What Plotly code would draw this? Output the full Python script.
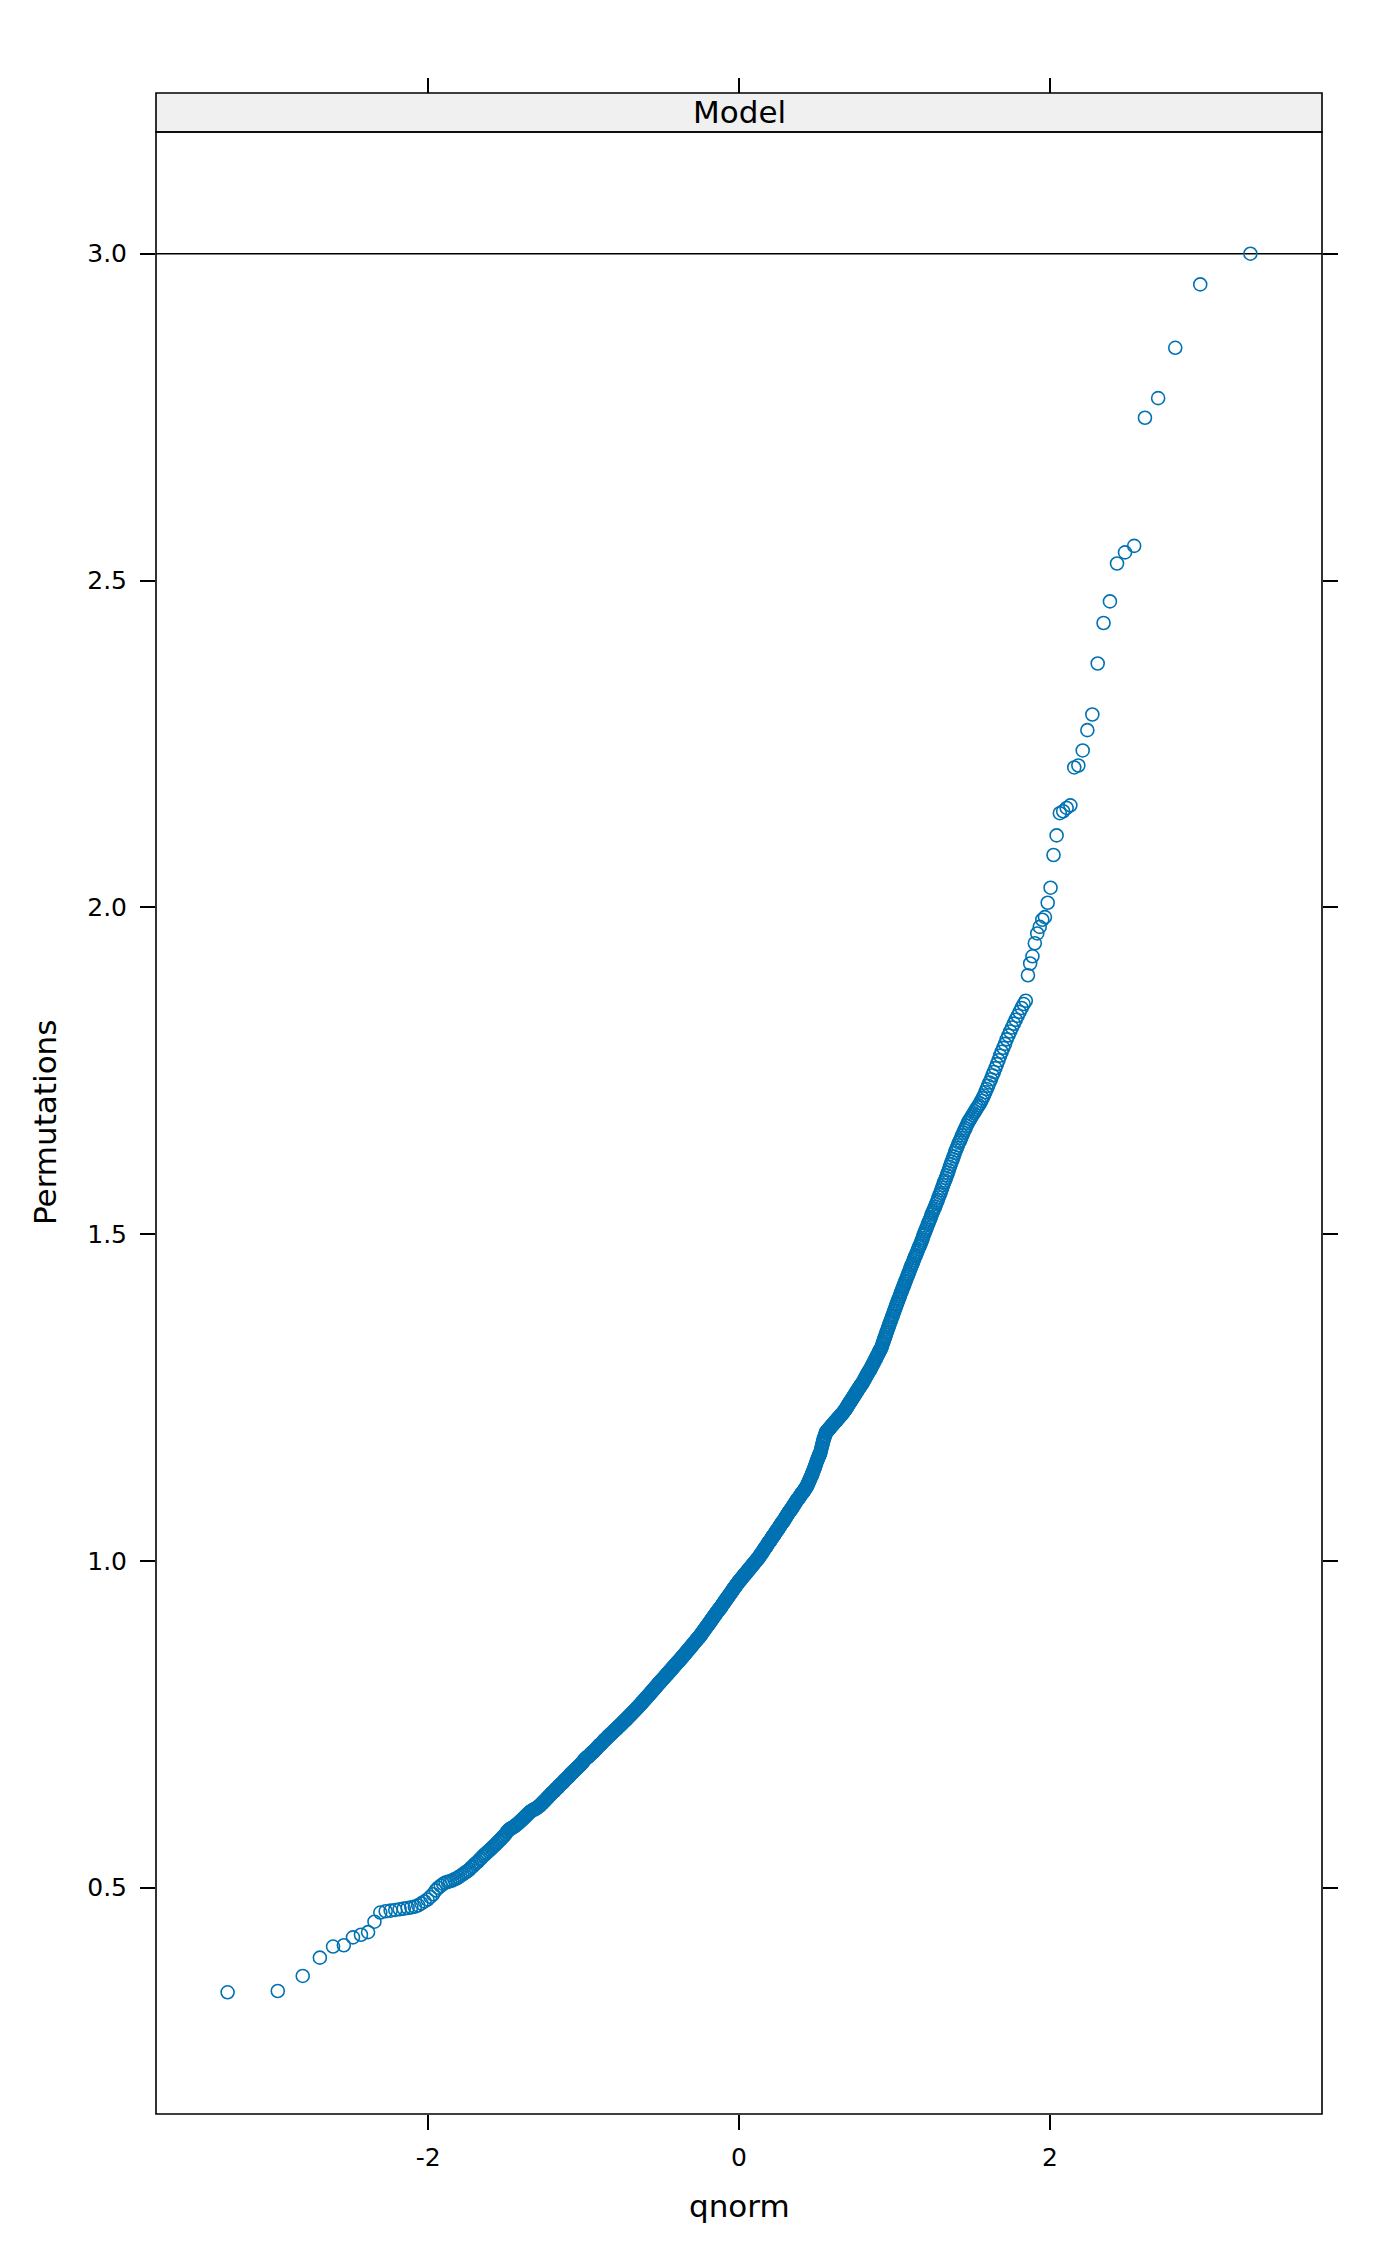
import plotly.graph_objects as go
from statistics import NormalDist

# ---- data: sorted permutation statistics ----
perm_lower_tail = [0.340, 0.342, 0.365, 0.393, 0.410, 0.412, 0.424, 0.428, 0.432, 0.448, 0.462, 0.464]

perm_body = [
    0.465, 0.466, 0.467, 0.468, 0.469, 0.470, 0.471, 0.473,
    0.476, 0.479, 0.482, 0.486, 0.490, 0.496, 0.500, 0.503, 0.506, 0.508,
    0.509, 0.510, 0.511, 0.513, 0.514, 0.516, 0.518, 0.520, 0.522, 0.524,
    0.526, 0.528, 0.531, 0.533, 0.536, 0.538, 0.540, 0.543, 0.545, 0.548,
    0.550, 0.552, 0.554, 0.556, 0.558, 0.560, 0.562, 0.564, 0.566, 0.568,
    0.570, 0.572, 0.574, 0.576, 0.578, 0.580, 0.582, 0.585, 0.587, 0.589,
    0.590, 0.591, 0.592, 0.593, 0.594, 0.596, 0.597, 0.598, 0.600, 0.601,
    0.603, 0.604, 0.606, 0.607, 0.609, 0.610, 0.612, 0.613, 0.615, 0.616,
    0.617, 0.618, 0.619, 0.620, 0.620, 0.621, 0.622, 0.623, 0.624, 0.625,
    0.626, 0.628, 0.629, 0.630, 0.632, 0.633, 0.634, 0.636, 0.637, 0.638,
    0.640, 0.641, 0.642, 0.644, 0.645, 0.646, 0.647, 0.648, 0.650, 0.651,
    0.652, 0.653, 0.654, 0.656, 0.657, 0.658, 0.659, 0.660, 0.661, 0.662,
    0.664, 0.665, 0.666, 0.667, 0.668, 0.669, 0.670, 0.671, 0.673, 0.674,
    0.675, 0.676, 0.677, 0.678, 0.679, 0.680, 0.681, 0.682, 0.683, 0.684,
    0.685, 0.686, 0.687, 0.688, 0.689, 0.690, 0.691, 0.692, 0.694, 0.695,
    0.696, 0.697, 0.698, 0.699, 0.700, 0.700, 0.701, 0.702, 0.703, 0.704,
    0.705, 0.706, 0.707, 0.707, 0.708, 0.709, 0.710, 0.711, 0.712, 0.713,
    0.714, 0.715, 0.716, 0.717, 0.718, 0.719, 0.719, 0.720, 0.721, 0.722,
    0.723, 0.724, 0.725, 0.726, 0.727, 0.727, 0.728, 0.729, 0.730, 0.731,
    0.732, 0.733, 0.733, 0.734, 0.735, 0.736, 0.736, 0.737, 0.738, 0.739,
    0.740, 0.740, 0.741, 0.742, 0.743, 0.743, 0.744, 0.745, 0.746, 0.747,
    0.747, 0.748, 0.749, 0.750, 0.750, 0.751, 0.752, 0.753, 0.754, 0.754,
    0.755, 0.756, 0.757, 0.757, 0.758, 0.759, 0.760, 0.761, 0.761, 0.762,
    0.763, 0.764, 0.764, 0.765, 0.766, 0.767, 0.768, 0.768, 0.769, 0.770,
    0.771, 0.771, 0.772, 0.773, 0.774, 0.775, 0.775, 0.776, 0.777, 0.778,
    0.779, 0.779, 0.780, 0.781, 0.782, 0.783, 0.783, 0.784, 0.785, 0.786,
    0.787, 0.787, 0.788, 0.789, 0.790, 0.791, 0.791, 0.792, 0.793, 0.794,
    0.795, 0.795, 0.796, 0.797, 0.798, 0.799, 0.799, 0.800, 0.801, 0.802,
    0.803, 0.803, 0.804, 0.805, 0.806, 0.807, 0.807, 0.808, 0.809, 0.810,
    0.811, 0.811, 0.812, 0.813, 0.814, 0.814, 0.815, 0.816, 0.817, 0.817,
    0.818, 0.819, 0.820, 0.820, 0.821, 0.822, 0.823, 0.823, 0.824, 0.825,
    0.826, 0.826, 0.827, 0.828, 0.829, 0.829, 0.830, 0.831, 0.832, 0.832,
    0.833, 0.834, 0.835, 0.835, 0.836, 0.837, 0.838, 0.838, 0.839, 0.840,
    0.841, 0.841, 0.842, 0.843, 0.844, 0.844, 0.845, 0.846, 0.846, 0.847,
    0.848, 0.848, 0.849, 0.850, 0.851, 0.851, 0.852, 0.853, 0.854, 0.854,
    0.855, 0.856, 0.857, 0.857, 0.858, 0.859, 0.860, 0.860, 0.861, 0.862,
    0.863, 0.863, 0.864, 0.865, 0.866, 0.866, 0.867, 0.868, 0.869, 0.869,
    0.870, 0.871, 0.872, 0.872, 0.873, 0.874, 0.875, 0.875, 0.876, 0.877,
    0.878, 0.878, 0.879, 0.880, 0.881, 0.881, 0.882, 0.883, 0.883, 0.884,
    0.885, 0.886, 0.887, 0.887, 0.888, 0.889, 0.890, 0.891, 0.892, 0.893,
    0.893, 0.894, 0.895, 0.896, 0.897, 0.898, 0.899, 0.899, 0.900, 0.901,
    0.902, 0.903, 0.904, 0.904, 0.905, 0.906, 0.907, 0.908, 0.909, 0.910,
    0.910, 0.911, 0.912, 0.913, 0.914, 0.915, 0.916, 0.916, 0.917, 0.918,
    0.919, 0.920, 0.921, 0.921, 0.922, 0.923, 0.924, 0.925, 0.925, 0.926,
    0.927, 0.928, 0.928, 0.929, 0.930, 0.931, 0.932, 0.933, 0.934, 0.935,
    0.935, 0.936, 0.937, 0.938, 0.939, 0.940, 0.941, 0.941, 0.942, 0.943,
    0.944, 0.945, 0.946, 0.946, 0.947, 0.948, 0.949, 0.950, 0.951, 0.952,
    0.952, 0.953, 0.954, 0.955, 0.956, 0.957, 0.958, 0.958, 0.959, 0.960,
    0.961, 0.962, 0.963, 0.963, 0.964, 0.965, 0.966, 0.967, 0.967, 0.968,
    0.969, 0.970, 0.970, 0.971, 0.972, 0.972, 0.973, 0.974, 0.975, 0.975,
    0.976, 0.977, 0.978, 0.978, 0.979, 0.980, 0.980, 0.981, 0.982, 0.983,
    0.983, 0.984, 0.985, 0.986, 0.986, 0.987, 0.988, 0.988, 0.989, 0.990,
    0.991, 0.991, 0.992, 0.993, 0.994, 0.994, 0.995, 0.996, 0.996, 0.997,
    0.998, 0.999, 0.999, 1.000, 1.001, 1.002, 1.002, 1.003, 1.004, 1.004,
    1.005, 1.006, 1.007, 1.008, 1.009, 1.010, 1.011, 1.011, 1.012, 1.013,
    1.014, 1.015, 1.016, 1.017, 1.018, 1.019, 1.020, 1.020, 1.021, 1.022,
    1.023, 1.024, 1.025, 1.026, 1.027, 1.028, 1.029, 1.029, 1.030, 1.031,
    1.032, 1.033, 1.034, 1.035, 1.036, 1.037, 1.038, 1.038, 1.039, 1.040,
    1.041, 1.042, 1.043, 1.044, 1.045, 1.046, 1.047, 1.047, 1.048, 1.049,
    1.050, 1.051, 1.052, 1.053, 1.054, 1.055, 1.056, 1.057, 1.058, 1.059,
    1.059, 1.060, 1.061, 1.062, 1.063, 1.064, 1.065, 1.066, 1.067, 1.068,
    1.069, 1.070, 1.071, 1.072, 1.073, 1.074, 1.075, 1.076, 1.077, 1.077,
    1.078, 1.079, 1.080, 1.081, 1.082, 1.083, 1.084, 1.085, 1.086, 1.087,
    1.088, 1.089, 1.090, 1.091, 1.092, 1.093, 1.094, 1.095, 1.095, 1.096,
    1.097, 1.098, 1.099, 1.100, 1.101, 1.102, 1.103, 1.104, 1.104, 1.105,
    1.106, 1.107, 1.108, 1.109, 1.110, 1.111, 1.112, 1.113, 1.114, 1.115,
    1.117, 1.118, 1.120, 1.121, 1.123, 1.124, 1.126, 1.127, 1.129, 1.130,
    1.132, 1.134, 1.135, 1.137, 1.139, 1.141, 1.142, 1.144, 1.146, 1.148,
    1.150, 1.152, 1.154, 1.155, 1.157, 1.159, 1.161, 1.162, 1.164, 1.165,
    1.168, 1.171, 1.174, 1.177, 1.179, 1.182, 1.185, 1.187, 1.189, 1.191,
    1.193, 1.196,
    1.197, 1.198, 1.198, 1.199, 1.200, 1.201, 1.202, 1.203, 1.203, 1.204,
    1.205, 1.206, 1.207, 1.208, 1.208, 1.209, 1.210, 1.211, 1.212, 1.213,
    1.213, 1.214, 1.215, 1.216, 1.217, 1.218, 1.218, 1.219, 1.220, 1.221,
    1.222, 1.223, 1.223, 1.224, 1.225, 1.226, 1.227, 1.228,
    1.229, 1.230, 1.231, 1.232, 1.233, 1.234, 1.236, 1.237, 1.238, 1.239,
    1.241, 1.242, 1.243, 1.244, 1.245, 1.247, 1.248, 1.249, 1.250, 1.251,
    1.253, 1.254, 1.255, 1.256, 1.258, 1.259, 1.260, 1.261, 1.263, 1.264,
    1.265, 1.266, 1.268, 1.269, 1.270, 1.271, 1.272, 1.274, 1.275, 1.277,
    1.278, 1.280, 1.281, 1.283, 1.284, 1.286, 1.287, 1.289, 1.290, 1.291,
    1.293, 1.294, 1.296, 1.298, 1.299, 1.301, 1.303, 1.304, 1.306, 1.308,
    1.309, 1.311, 1.313, 1.315, 1.316, 1.318, 1.320, 1.322, 1.323, 1.325,
    1.327, 1.330, 1.333, 1.335, 1.338, 1.341, 1.343, 1.346, 1.349, 1.351,
    1.354, 1.357, 1.359, 1.362, 1.365, 1.367, 1.370, 1.373, 1.375, 1.378,
    1.381, 1.383, 1.386, 1.389, 1.392, 1.394, 1.397, 1.400, 1.402, 1.405,
    1.408, 1.411, 1.413, 1.416, 1.419, 1.421, 1.424, 1.427, 1.429, 1.432,
    1.435, 1.438, 1.440, 1.443, 1.446, 1.449, 1.452, 1.454, 1.457, 1.460,
    1.463, 1.466, 1.468, 1.471, 1.474, 1.477, 1.480, 1.482, 1.485, 1.488,
    1.491, 1.494, 1.498, 1.501, 1.504, 1.507, 1.510, 1.514, 1.517, 1.520,
    1.523, 1.526, 1.530, 1.533, 1.536, 1.539, 1.542, 1.546, 1.549, 1.552,
    1.556, 1.560, 1.563, 1.567, 1.571, 1.575, 1.579, 1.582, 1.586, 1.590,
    1.594, 1.598, 1.603, 1.607, 1.611, 1.615, 1.619, 1.624, 1.628, 1.632,
    1.636, 1.640, 1.643, 1.647, 1.651, 1.655, 1.659, 1.662, 1.666, 1.670,
    1.673, 1.676, 1.679, 1.682, 1.685, 1.688, 1.691, 1.694, 1.697, 1.700,
    1.704, 1.708, 1.712, 1.717, 1.722, 1.727, 1.732, 1.737, 1.743, 1.748,
    1.754, 1.760, 1.766, 1.773, 1.779, 1.785, 1.791, 1.798, 1.804, 1.810,
    1.816, 1.822, 1.828, 1.834, 1.840, 1.846, 1.852, 1.857,
]

perm_upper_tail = [
    1.896, 1.914, 1.925, 1.945, 1.960, 1.970, 1.981, 1.985, 2.007, 2.030,
    2.080, 2.110, 2.144, 2.147, 2.152, 2.156, 2.214, 2.217, 2.240, 2.271,
    2.295, 2.373, 2.435, 2.468, 2.526, 2.543, 2.553, 2.749, 2.779, 2.856,
    2.953, 3.000,
]

reference_line = 3.0
panel_label = "Model"
x_tick_vals = [-2, 0, 2]
x_tick_text = ["-2", "0", "2"]
y_tick_vals = [0.5, 1.0, 1.5, 2.0, 2.5, 3.0]
y_tick_text = ["0.5", "1.0", "1.5", "2.0", "2.5", "3.0"]

# ---- qqmath: theoretical normal quantiles (ppoints) ----
values = sorted(perm_lower_tail + perm_body + perm_upper_tail)
n = len(values)
a = 3 / 8 if n <= 10 else 0.5
nd = NormalDist()
qn = [nd.inv_cdf((i + 1 - a) / (n + 1 - 2 * a)) for i in range(n)]

pad = 0.07
xr = max(qn) - min(qn)
yr = max(values) - min(values)
x_range = [min(qn) - pad * xr, max(qn) + pad * xr]
y_range = [min(values) - pad * yr, max(values) + pad * yr]

# ---- layout geometry (page has an 8px body margin) ----
OFF = 8
W, H = 1400 - 2 * OFF, 2266 - 2 * OFF
ML = 156 - OFF
MT = 92.5 - OFF
MR = W - (1322 - OFF)
MB = H - (2114 - OFF)
STRIP_H = 39
plot_w = W - ML - MR
plot_h = H - MT - MB
d_top = 1 - STRIP_H / plot_h

FONT = "DejaVu Sans"
TICK_SIZE = 25
LAB_SIZE = 31
LW = 1.6
BLUE = "#0072B2"

fig = go.Figure()
fig.add_trace(go.Scatter(
    x=qn, y=values, mode="markers",
    marker=dict(symbol="circle-open", size=13, color=BLUE, line=dict(width=1.6, color=BLUE)),
    showlegend=False, hoverinfo="skip",
))
# empty traces so the mirrored tick axes are drawn
fig.add_trace(go.Scatter(x=[], y=[], xaxis="x2", yaxis="y", showlegend=False))
fig.add_trace(go.Scatter(x=[], y=[], xaxis="x", yaxis="y2", showlegend=False))

tick_common = dict(ticks="outside", ticklen=15, tickwidth=LW, tickcolor="black",
                   showgrid=False, zeroline=False, showline=False)

xlab_y = -((2206 - OFF) - (H - MB)) / plot_h
ylab_x = ((45 - OFF) - ML) / plot_w

fig.update_layout(
    width=W, height=H,
    margin=dict(l=ML, r=MR, t=MT, b=MB, pad=0),
    paper_bgcolor="white", plot_bgcolor="white",
    font=dict(family=FONT, color="black"),
    xaxis=dict(range=x_range, domain=[0, 1], anchor="y", tickmode="array",
               tickvals=x_tick_vals, ticktext=x_tick_text,
               tickfont=dict(size=TICK_SIZE, family=FONT, color="black"),
               ticklabelstandoff=6, **tick_common),
    xaxis2=dict(range=x_range, overlaying="x", side="top", anchor="free", position=1,
                tickmode="array", tickvals=x_tick_vals, showticklabels=False, **tick_common),
    yaxis=dict(range=y_range, domain=[0, d_top], anchor="x", tickmode="array",
               tickvals=y_tick_vals, ticktext=y_tick_text,
               tickfont=dict(size=TICK_SIZE, family=FONT, color="black"),
               ticklabelstandoff=8, **tick_common),
    yaxis2=dict(range=y_range, overlaying="y", side="right", anchor="x",
                tickmode="array", tickvals=y_tick_vals, showticklabels=False, **tick_common),
    shapes=[
        dict(type="line", xref="paper", yref="y", x0=0, x1=1,
             y0=reference_line, y1=reference_line, line=dict(color="black", width=LW), layer="below"),
        dict(type="rect", xref="paper", yref="paper", x0=0, x1=1, y0=d_top, y1=1,
             fillcolor="#F0F0F0", line=dict(color="black", width=LW), layer="below"),
        dict(type="rect", xref="paper", yref="paper", x0=0, x1=1, y0=0, y1=d_top,
             line=dict(color="black", width=LW), layer="above"),
    ],
    annotations=[
        dict(text=panel_label, xref="paper", yref="paper", x=0.5, y=(d_top + 1) / 2,
             xanchor="center", yanchor="middle", showarrow=False,
             font=dict(size=LAB_SIZE, family=FONT, color="black")),
        dict(text="qnorm", xref="paper", yref="paper", x=0.5, y=xlab_y,
             xanchor="center", yanchor="middle", showarrow=False,
             font=dict(size=LAB_SIZE, family=FONT, color="black")),
        dict(text="Permutations", xref="paper", yref="paper", x=ylab_x, y=d_top / 2,
             xanchor="center", yanchor="middle", textangle=-90, showarrow=False,
             font=dict(size=LAB_SIZE, family=FONT, color="black")),
    ],
)

fig.write_html("out.html")
